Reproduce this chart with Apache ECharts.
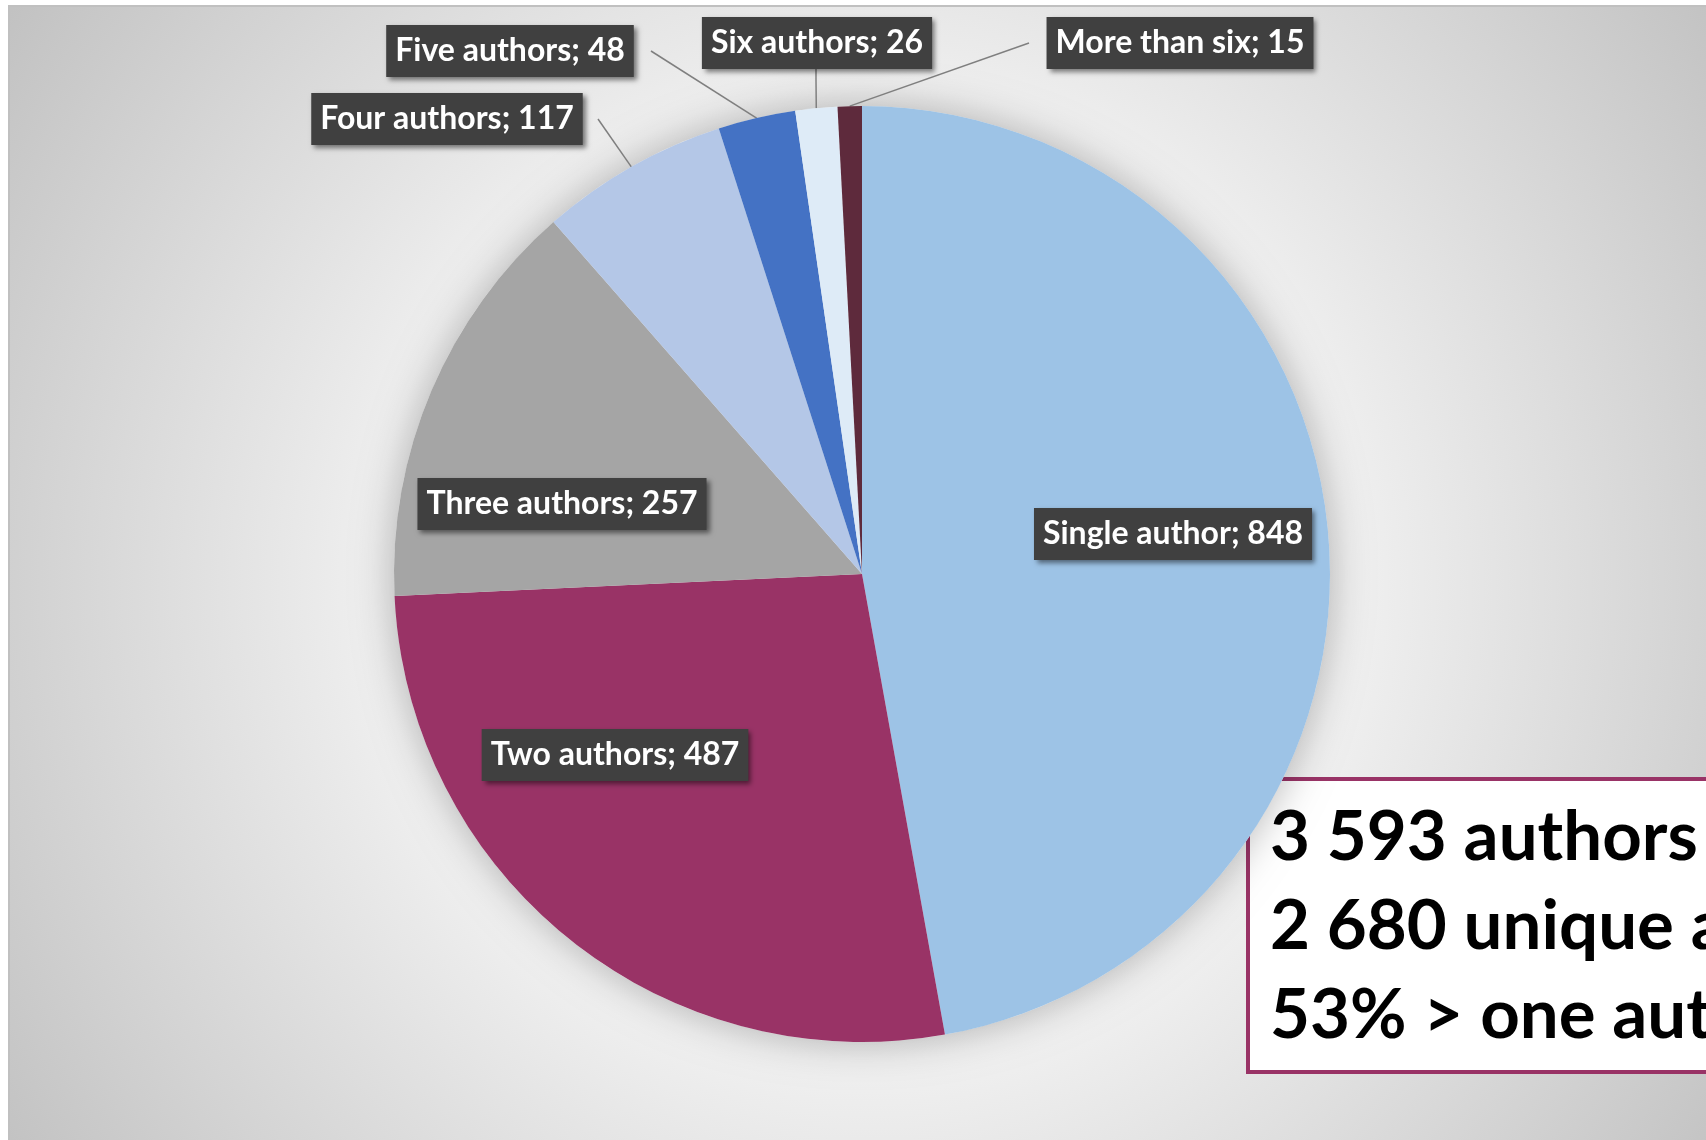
<!DOCTYPE html>
<html>
<head>
<meta charset="utf-8">
<script src="https://cdn.jsdelivr.net/npm/echarts@6/dist/echarts.min.js"></script>
<style>
  html, body { margin: 0; padding: 0; background: #ffffff; }
  #chart { width: 1706px; height: 1140px; }
</style>
</head>
<body>
<div id="chart"></div>
<script>
// ---- data ----
const categories = ['Single author', 'Two authors', 'Three authors', 'Four authors', 'Five authors', 'Six authors', 'More than six'];
const authorCounts = [848, 487, 257, 117, 48, 26, 15];
const sliceColors = ['#9DC3E6', '#993366', '#A5A5A5', '#B4C7E7', '#4472C4', '#DEEBF7', '#5E2A3C'];
const insideLabels = ['Single author', 'Two authors', 'Three authors'];
const summaryLines = ['3 593 authors', '2 680 unique authors', '53% > one author'];

// ---- layout (label anchors, leader line bends) ----
const PIE_CENTER = [862, 574];
const PIE_RADIUS = 468;
const labelAnchors = {
  'Single author': { x: 1173, y: 534 },
  'Two authors':   { x: 615, y: 755 },
  'Three authors': { x: 562, y: 504 },
  'Four authors':  { x: 447, y: 119, bend: [598, 119] },
  'Five authors':  { x: 510, y: 51,  bend: [651, 51] },
  'Six authors':   { x: 817, y: 43,  bend: [816, 80], end: [816, 68] },
  'More than six': { x: 1180, y: 43, bend: [1029, 43] }
};

const chart = echarts.init(document.getElementById('chart'), null, { renderer: 'canvas' });

const pieData = categories.map((name, i) => {
  const inside = insideLabels.indexOf(name) >= 0;
  return {
    name: name,
    value: authorCounts[i],
    itemStyle: { color: sliceColors[i] },
    label: { position: inside ? 'inside' : 'outside' },
    labelLine: { show: !inside }
  };
});

const labelFont = 'Lato';

const option = {
  backgroundColor: '#ffffff',
  animation: false,
  graphic: [
    {
      type: 'rect',
      z: -10,
      silent: true,
      shape: { x: 9, y: 6, width: 1720, height: 1160 },
      style: {
        fill: {
          type: 'radial', x: 0.5, y: 0.5, r: 0.92,
          colorStops: [
            { offset: 0, color: '#ffffff' },
            { offset: 0.45, color: '#f0f0f0' },
            { offset: 1, color: '#bfbfbf' }
          ]
        },
        stroke: '#c0c0c0',
        lineWidth: 2
      }
    },
    {
      type: 'group',
      z: 100,
      children: [
        {
          type: 'rect',
          shape: { x: 1248, y: 779, width: 600, height: 293 },
          style: { fill: '#ffffff', stroke: '#993366', lineWidth: 4 }
        }
      ].concat(summaryLines.map((t, i) => ({
        type: 'text',
        x: 1270,
        y: 838 + i * 89,
        style: {
          text: t,
          fill: '#000000',
          font: 'bold 69px Lato',
          align: 'left',
          verticalAlign: 'middle'
        }
      })))
    }
  ],
  series: [
    {
      // soft shadow under the whole pie
      type: 'pie',
      silent: true,
      center: PIE_CENTER,
      radius: PIE_RADIUS,
      z: 1,
      label: { show: false },
      labelLine: { show: false },
      itemStyle: {
        color: '#eeeeee',
        shadowBlur: 40,
        shadowColor: 'rgba(0,0,0,0.28)'
      },
      emphasis: { disabled: true },
      data: [{ value: 1, name: 'shadow' }]
    },
    {
      type: 'pie',
      center: PIE_CENTER,
      radius: PIE_RADIUS,
      startAngle: 90,
      clockwise: true,
      z: 2,
      avoidLabelOverlap: false,
      itemStyle: { borderWidth: 0 },
      emphasis: { disabled: true },
      label: {
        show: true,
        formatter: '{b}; {c}',
        color: '#ffffff',
        fontFamily: labelFont,
        fontWeight: 'bold',
        fontSize: 32,
        lineHeight: 34,
        backgroundColor: '#404040',
        padding: [9, 9, 9, 9],
        shadowColor: 'rgba(0,0,0,0.5)',
        shadowBlur: 5,
        shadowOffsetX: 3,
        shadowOffsetY: 3
      },
      labelLine: {
        show: true,
        lineStyle: { color: '#7f7f7f', width: 1.5 }
      },
      labelLayout: function (params) {
        const name = categories[params.dataIndex];
        const a = labelAnchors[name];
        const out = {
          x: a.x, y: a.y, align: 'center', verticalAlign: 'middle',
          hideOverlap: false, moveOverlap: false
        };
        if (a.bend && params.labelLinePoints) {
          const p0 = params.labelLinePoints[0];
          out.labelLinePoints = [[p0[0], p0[1]], a.bend, a.end || a.bend];
        }
        return out;
      },
      data: pieData
    }
  ]
};

chart.setOption(option);
</script>
</body>
</html>
